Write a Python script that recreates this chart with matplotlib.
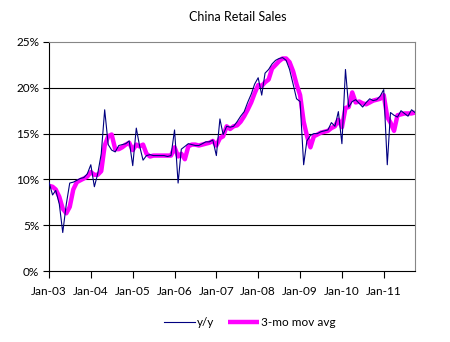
import matplotlib
matplotlib.use("Agg")
import matplotlib.pyplot as plt
import matplotlib.dates as mdates
import pandas as pd

start_month = "2003-01-01"
tick_labels = ["Jan-03", "Jan-04", "Jan-05", "Jan-06", "Jan-07",
               "Jan-08", "Jan-09", "Jan-10", "Jan-11"]

yoy = [
    # 2003
    9.7, 8.3, 8.8, 7.3, 4.2, 7.3, 9.6, 9.7, 9.9, 10.1, 10.2, 10.6,
    # 2004
    11.6, 9.2, 10.6, 12.8, 17.6, 13.8, 13.2, 13.0, 13.7, 13.8, 13.9, 14.2,
    # 2005
    11.5, 15.6, 13.7, 12.1, 12.6, 12.7, 12.6, 12.6, 12.6, 12.6, 12.5, 12.6,
    # 2006
    15.4, 9.6, 13.3, 13.6, 13.9, 13.8, 13.7, 13.7, 13.9, 14.1, 14.1, 14.3,
    # 2007
    12.6, 16.6, 14.9, 15.8, 15.7, 15.8, 16.3, 16.9, 17.4, 18.4, 19.3, 20.4,
    # 2008
    21.1, 19.2, 21.6, 22.0, 22.6, 23.0, 23.2, 23.3, 23.0, 22.0, 20.4, 18.8,
    # 2009
    18.5, 11.6, 14.2, 14.8, 15.0, 15.0, 15.2, 15.3, 15.4, 16.2, 15.8, 17.4,
    # 2010
    13.9, 22.0, 17.9, 18.5, 18.7, 18.3, 17.9, 18.4, 18.8, 18.6, 18.7, 19.1,
    # 2011
    19.8, 11.6, 17.3, 17.0, 16.8, 17.5, 17.2, 16.9, 17.6, 17.3,
]

mov_avg = [
    # 2003
    9.3, 9.2, 8.9, 8.1, 6.8, 6.3, 7.0, 8.9, 9.7, 9.9, 10.1, 10.3,
    # 2004
    10.8, 10.5, 10.5, 10.9, 13.7, 14.7, 14.9, 13.3, 13.3, 13.5, 13.8, 14.0,
    # 2005
    13.2, 13.8, 13.6, 13.8, 12.8, 12.5, 12.6, 12.6, 12.6, 12.6, 12.6, 12.6,
    # 2006
    13.5, 12.5, 12.8, 12.2, 13.6, 13.8, 13.8, 13.7, 13.8, 13.9, 14.0, 14.2,
    # 2007
    13.7, 14.5, 14.7, 15.8, 15.5, 15.8, 15.9, 16.3, 16.9, 17.6, 18.4, 19.4,
    # 2008
    20.3, 20.2, 20.6, 20.9, 22.1, 22.5, 22.9, 23.2, 23.2, 22.8, 21.8, 20.4,
    # 2009
    19.2, 16.3, 14.8, 13.5, 14.7, 14.9, 15.1, 15.2, 15.3, 15.6, 15.8, 16.5,
    # 2010
    15.7, 17.8, 17.9, 19.5, 18.4, 18.5, 18.3, 18.2, 18.4, 18.6, 18.7, 18.8,
    # 2011
    19.2, 16.8, 16.2, 15.3, 17.0, 17.1, 17.2, 17.2, 17.2, 17.3,
]

dates = pd.date_range(start_month, periods=len(yoy), freq="MS")

plt.rcParams["font.family"] = ["Lato", "DejaVu Sans"]

fig = plt.figure(figsize=(4.5, 3.42), dpi=100)
ax = fig.add_axes([49 / 450, 1 - 271 / 342, (415 - 49) / 450, (271 - 42) / 342])

for v in [5, 10, 15, 20]:
    ax.axhline(v / 100, color="black", linewidth=0.8, zorder=1)

ax.plot(dates, [v / 100 for v in yoy], color="#000080", linewidth=0.8,
        label="y/y", zorder=3)
ax.plot(dates, [v / 100 for v in mov_avg], color="#FF00FF", linewidth=3.2,
        label="3-mo mov avg", zorder=2, solid_capstyle="butt")

ax.set_xlim(dates[0], dates[-1])
ax.set_ylim(0, 0.25)
ax.set_yticks([0, 0.05, 0.10, 0.15, 0.20, 0.25])
ax.set_yticklabels(["0%", "5%", "10%", "15%", "20%", "25%"])
tick_dates = pd.date_range(start_month, periods=len(tick_labels), freq="12MS")
ax.set_xticks(tick_dates)
ax.set_xticklabels(tick_labels)

ax.tick_params(axis="both", labelsize=8.5, colors="black", direction="out")
ax.tick_params(axis="x", length=5, width=0.8, pad=6)
ax.tick_params(axis="y", length=4, width=0.8, pad=3)

for s in ["left", "bottom"]:
    ax.spines[s].set_color("black")
    ax.spines[s].set_linewidth(0.8)
for s in ["top", "right"]:
    ax.spines[s].set_color("#868686")
    ax.spines[s].set_linewidth(0.8)

fig.text(238 / 450, 1 - 17 / 342, "China Retail Sales", ha="center",
         va="center", fontsize=9)

fig.legend(loc="center", bbox_to_anchor=(250 / 450, 1 - 323 / 342), ncol=2,
           frameon=False, fontsize=8.5, handlelength=2.6, handletextpad=0.2,
           columnspacing=1.2)

fig.savefig("out.png", dpi=100)
